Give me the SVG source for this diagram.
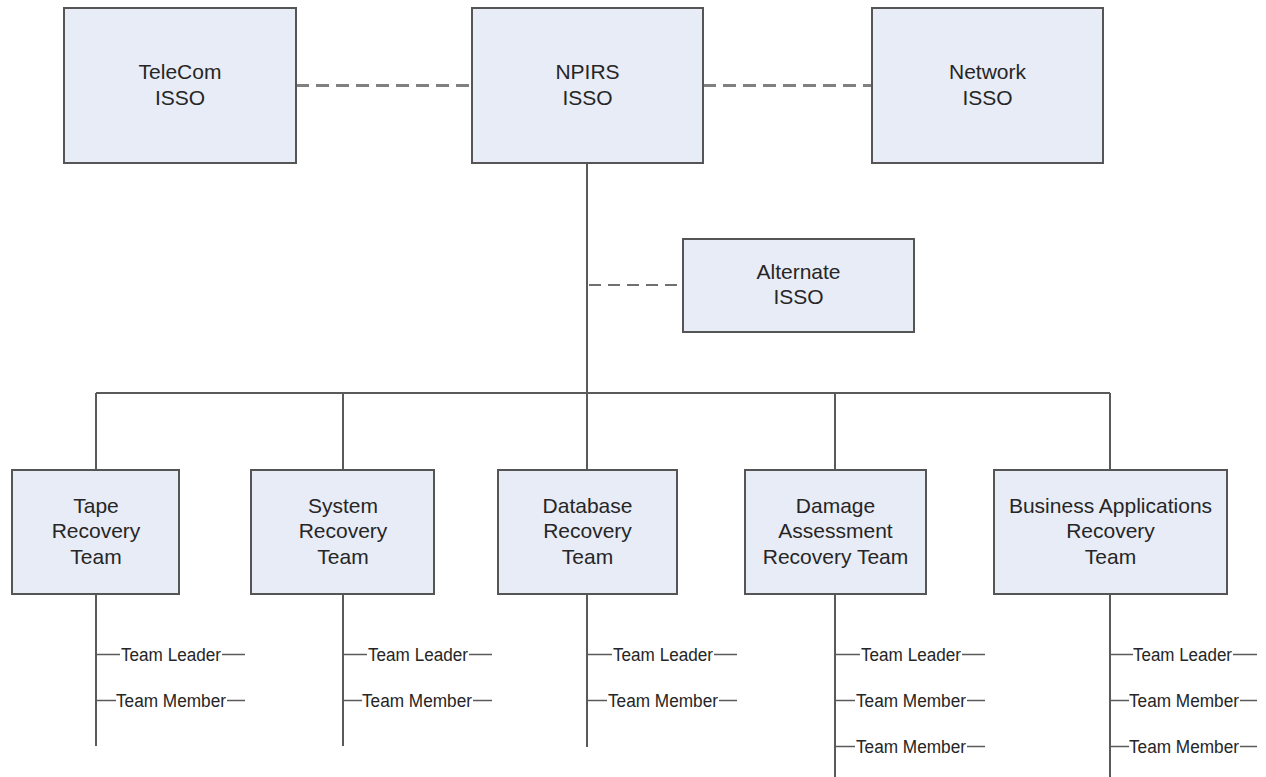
<svg xmlns="http://www.w3.org/2000/svg" width="1266" height="777" viewBox="0 0 1266 777">
<style>
.box{fill:#E8ECF6;stroke:#555;stroke-width:2}
.t{font-family:"Liberation Sans",Arial,sans-serif;font-size:21px;fill:#262626;text-anchor:middle}
.s{font-family:"Liberation Sans",Arial,sans-serif;font-size:18px;fill:#262626}
.ln{stroke:#5a5a5a;stroke-width:2;fill:none}
.tk{stroke:#5a5a5a;stroke-width:1.5;fill:none}
.dash{stroke:#808080;stroke-width:3;stroke-dasharray:13 7;fill:none}
.dash2{stroke:#707070;stroke-width:2;stroke-dasharray:12 7;fill:none}
</style>
<g id="connectors">
<line class="dash" x1="296" y1="85.5" x2="472" y2="85.5"/>
<line class="dash" x1="703" y1="85.5" x2="872" y2="85.5"/>
<line class="dash2" x1="589" y1="285" x2="683" y2="285"/>
<line class="ln" x1="587" y1="163" x2="587" y2="407"/>
<line class="ln" x1="96" y1="393" x2="1110" y2="393"/>
<line class="ln" x1="96" y1="393" x2="96" y2="470"/>
<line class="ln" x1="343" y1="393" x2="343" y2="470"/>
<line class="ln" x1="587" y1="393" x2="587" y2="470"/>
<line class="ln" x1="835" y1="393" x2="835" y2="470"/>
<line class="ln" x1="1110" y1="393" x2="1110" y2="470"/>
<line class="ln" x1="96" y1="594" x2="96" y2="746"/>
<line class="ln" x1="343" y1="594" x2="343" y2="746"/>
<line class="ln" x1="587" y1="594" x2="587" y2="747"/>
<line class="ln" x1="835" y1="594" x2="835" y2="777"/>
<line class="ln" x1="1110" y1="594" x2="1110" y2="777"/>
</g>
<g id="telecom"><rect class="box" x="64" y="8" width="232" height="155"/><text class="t" x="180" y="79">TeleCom</text><text class="t" x="180" y="105">ISSO</text></g>
<g id="npirs"><rect class="box" x="472" y="8" width="231" height="155"/><text class="t" x="587.5" y="79">NPIRS</text><text class="t" x="587.5" y="105">ISSO</text></g>
<g id="network"><rect class="box" x="872" y="8" width="231" height="155"/><text class="t" x="987.5" y="79">Network</text><text class="t" x="987.5" y="105">ISSO</text></g>
<g id="alternate"><rect class="box" x="683" y="239" width="231" height="93"/><text class="t" x="798.5" y="279">Alternate</text><text class="t" x="798.5" y="304">ISSO</text></g>
<g id="tape"><rect class="box" x="12" y="470" width="167" height="124"/><text class="t" x="96" y="512.5">Tape</text><text class="t" x="96" y="538">Recovery</text><text class="t" x="96" y="564">Team</text></g>
<g id="system"><rect class="box" x="251" y="470" width="183" height="124"/><text class="t" x="343" y="512.5">System</text><text class="t" x="343" y="538">Recovery</text><text class="t" x="343" y="564">Team</text></g>
<g id="database"><rect class="box" x="498" y="470" width="179" height="124"/><text class="t" x="587.5" y="512.5">Database</text><text class="t" x="587.5" y="538">Recovery</text><text class="t" x="587.5" y="564">Team</text></g>
<g id="damage"><rect class="box" x="745" y="470" width="181" height="124"/><text class="t" x="835.5" y="512.5">Damage</text><text class="t" x="835.5" y="538">Assessment</text><text class="t" x="835.5" y="564">Recovery Team</text></g>
<g id="business"><rect class="box" x="994" y="470" width="233" height="124"/><text class="t" x="1110.5" y="512.5">Business Applications</text><text class="t" x="1110.5" y="538">Recovery</text><text class="t" x="1110.5" y="564">Team</text></g>
<g id="members">
<g id="tape-members">
<line class="tk" x1="97" y1="654.5" x2="120" y2="654.5"/><text class="s" x="121" y="661" textLength="100" lengthAdjust="spacingAndGlyphs">Team Leader</text><line class="tk" x1="222" y1="654.5" x2="245" y2="654.5"/>
<line class="tk" x1="97" y1="700.5" x2="116" y2="700.5"/><text class="s" x="116" y="707" textLength="110" lengthAdjust="spacingAndGlyphs">Team Member</text><line class="tk" x1="227" y1="700.5" x2="245" y2="700.5"/>
</g>
<g id="system-members">
<line class="tk" x1="344" y1="654.5" x2="367" y2="654.5"/><text class="s" x="368" y="661" textLength="100" lengthAdjust="spacingAndGlyphs">Team Leader</text><line class="tk" x1="469" y1="654.5" x2="492" y2="654.5"/>
<line class="tk" x1="344" y1="700.5" x2="362" y2="700.5"/><text class="s" x="362" y="707" textLength="110" lengthAdjust="spacingAndGlyphs">Team Member</text><line class="tk" x1="473" y1="700.5" x2="492" y2="700.5"/>
</g>
<g id="database-members">
<line class="tk" x1="588" y1="654.5" x2="612" y2="654.5"/><text class="s" x="613" y="661" textLength="100" lengthAdjust="spacingAndGlyphs">Team Leader</text><line class="tk" x1="714" y1="654.5" x2="737" y2="654.5"/>
<line class="tk" x1="588" y1="700.5" x2="607" y2="700.5"/><text class="s" x="608" y="707" textLength="110" lengthAdjust="spacingAndGlyphs">Team Member</text><line class="tk" x1="719" y1="700.5" x2="737" y2="700.5"/>
</g>
<g id="damage-members">
<line class="tk" x1="836" y1="654.5" x2="860" y2="654.5"/><text class="s" x="861" y="661" textLength="100" lengthAdjust="spacingAndGlyphs">Team Leader</text><line class="tk" x1="962" y1="654.5" x2="985" y2="654.5"/>
<line class="tk" x1="836" y1="700.5" x2="855" y2="700.5"/><text class="s" x="856" y="707" textLength="110" lengthAdjust="spacingAndGlyphs">Team Member</text><line class="tk" x1="967" y1="700.5" x2="985" y2="700.5"/>
<line class="tk" x1="836" y1="746.5" x2="855" y2="746.5"/><text class="s" x="856" y="753" textLength="110" lengthAdjust="spacingAndGlyphs">Team Member</text><line class="tk" x1="967" y1="746.5" x2="985" y2="746.5"/>
</g>
<g id="business-members">
<line class="tk" x1="1111" y1="654.5" x2="1133" y2="654.5"/><text class="s" x="1133" y="661" textLength="99" lengthAdjust="spacingAndGlyphs">Team Leader</text><line class="tk" x1="1233" y1="654.5" x2="1257" y2="654.5"/>
<line class="tk" x1="1111" y1="700.5" x2="1129" y2="700.5"/><text class="s" x="1129" y="707" textLength="110" lengthAdjust="spacingAndGlyphs">Team Member</text><line class="tk" x1="1240" y1="700.5" x2="1257" y2="700.5"/>
<line class="tk" x1="1111" y1="746.5" x2="1129" y2="746.5"/><text class="s" x="1129" y="753" textLength="110" lengthAdjust="spacingAndGlyphs">Team Member</text><line class="tk" x1="1240" y1="746.5" x2="1257" y2="746.5"/>
</g>
</g>
</svg>
